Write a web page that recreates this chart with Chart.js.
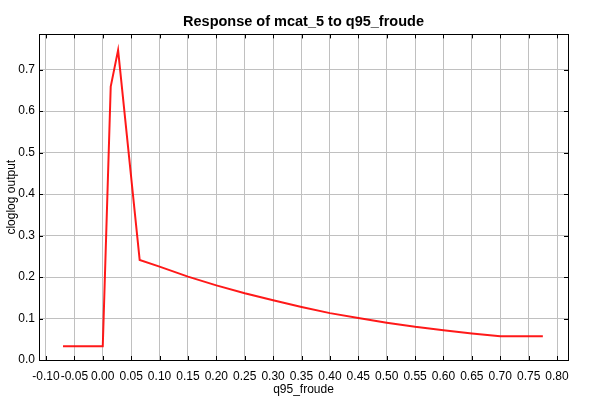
<!DOCTYPE html>
<html>
<head>
<meta charset="utf-8">
<script src="https://cdn.jsdelivr.net/npm/chart.js@4"></script>
<style>
  html, body { margin: 0; padding: 0; background: #fff; }
  #wrap { width: 600px; height: 400px; }
</style>
</head>
<body>
<div id="wrap"><canvas id="chart"></canvas></div>
<script>
const froude = [-0.070, 0.0, 0.014, 0.027, 0.065, 0.10, 0.15, 0.20, 0.25, 0.30, 0.35, 0.40, 0.45, 0.50, 0.55, 0.60, 0.65, 0.70, 0.775]
const response = [0.033, 0.033, 0.659, 0.747, 0.241, 0.225, 0.201, 0.180, 0.161, 0.144, 0.128, 0.113, 0.101, 0.090, 0.080, 0.072, 0.064, 0.057, 0.057]

const titleText = 'Response of mcat_5 to q95_froude'
const xTitle = 'q95_froude'
const yTitle = 'cloglog output'

const fontFamily = '"Liberation Sans", Arial, sans-serif'

// frame round the plot area with small inward tick marks on every side
const framePlugin = {
    id: 'frame',
    afterDraw(chart) {
        const { ctx, chartArea: a, scales } = chart
        ctx.save()
        ctx.strokeStyle = '#000'
        ctx.lineWidth = 1
        ctx.beginPath()
        scales.x.ticks.forEach(t => {
            const px = Math.round(scales.x.getPixelForValue(t.value)) + 0.5
            ctx.moveTo(px, a.bottom); ctx.lineTo(px, a.bottom - 4)
            ctx.moveTo(px, a.top); ctx.lineTo(px, a.top + 4)
        })
        scales.y.ticks.forEach(t => {
            const py = Math.round(scales.y.getPixelForValue(t.value)) + 0.5
            ctx.moveTo(a.left, py); ctx.lineTo(a.left + 4, py)
            ctx.moveTo(a.right, py); ctx.lineTo(a.right - 4, py)
        })
        ctx.stroke()
        ctx.strokeRect(Math.round(a.left) + 0.5, Math.round(a.top) + 0.5,
            Math.round(a.right - a.left), Math.round(a.bottom - a.top))
        ctx.restore()
    }
}

const points = froude.map((x, i) => ({ x: x, y: response[i] }))

new Chart(document.getElementById('chart'), {
    type: 'scatter',
    data: {
        datasets: [{
            data: points,
            showLine: true,
            borderColor: 'rgba(255, 0, 0, 0.9)',
            borderWidth: 2,
            pointRadius: 0,
            tension: 0
        }]
    },
    options: {
        responsive: true,
        maintainAspectRatio: false,
        animation: false,
        layout: { padding: { left: 0, right: 32, top: 0, bottom: 0 } },
        plugins: {
            legend: { display: false },
            tooltip: { enabled: false },
            title: {
                display: true,
                fullSize: false,
                text: titleText,
                color: '#000',
                font: { family: fontFamily, size: 14.5, weight: 'bold' },
                padding: { top: 13, bottom: 4 }
            }
        },
        scales: {
            x: {
                type: 'linear',
                min: -0.1123,
                max: 0.8193,
                afterFit(s) { s.height = 40 },
                grid: { color: '#c0c0c0', drawTicks: false },
                border: { display: false },
                ticks: {
                    stepSize: 0.05,
                    includeBounds: false,
                    autoSkip: false,
                    maxRotation: 0,
                    padding: 9,
                    color: '#000',
                    font: { family: fontFamily, size: 12 },
                    callback: v => v.toFixed(2)
                },
                title: {
                    display: true,
                    text: xTitle,
                    color: '#000',
                    font: { family: fontFamily, size: 12 },
                    padding: { top: 0, bottom: 3 }
                }
            },
            y: {
                min: 0,
                max: 0.785,
                afterFit(s) { s.width = 39 },
                grid: { color: '#c0c0c0', drawTicks: false },
                border: { display: false },
                ticks: {
                    stepSize: 0.1,
                    includeBounds: false,
                    padding: 4,
                    color: '#000',
                    font: { family: fontFamily, size: 12 },
                    callback: v => v.toFixed(1)
                },
                title: {
                    display: true,
                    text: yTitle,
                    color: '#000',
                    font: { family: fontFamily, size: 12 },
                    padding: { top: 4, bottom: 0 }
                }
            }
        }
    },
    plugins: [framePlugin]
})
</script>
</body>
</html>
